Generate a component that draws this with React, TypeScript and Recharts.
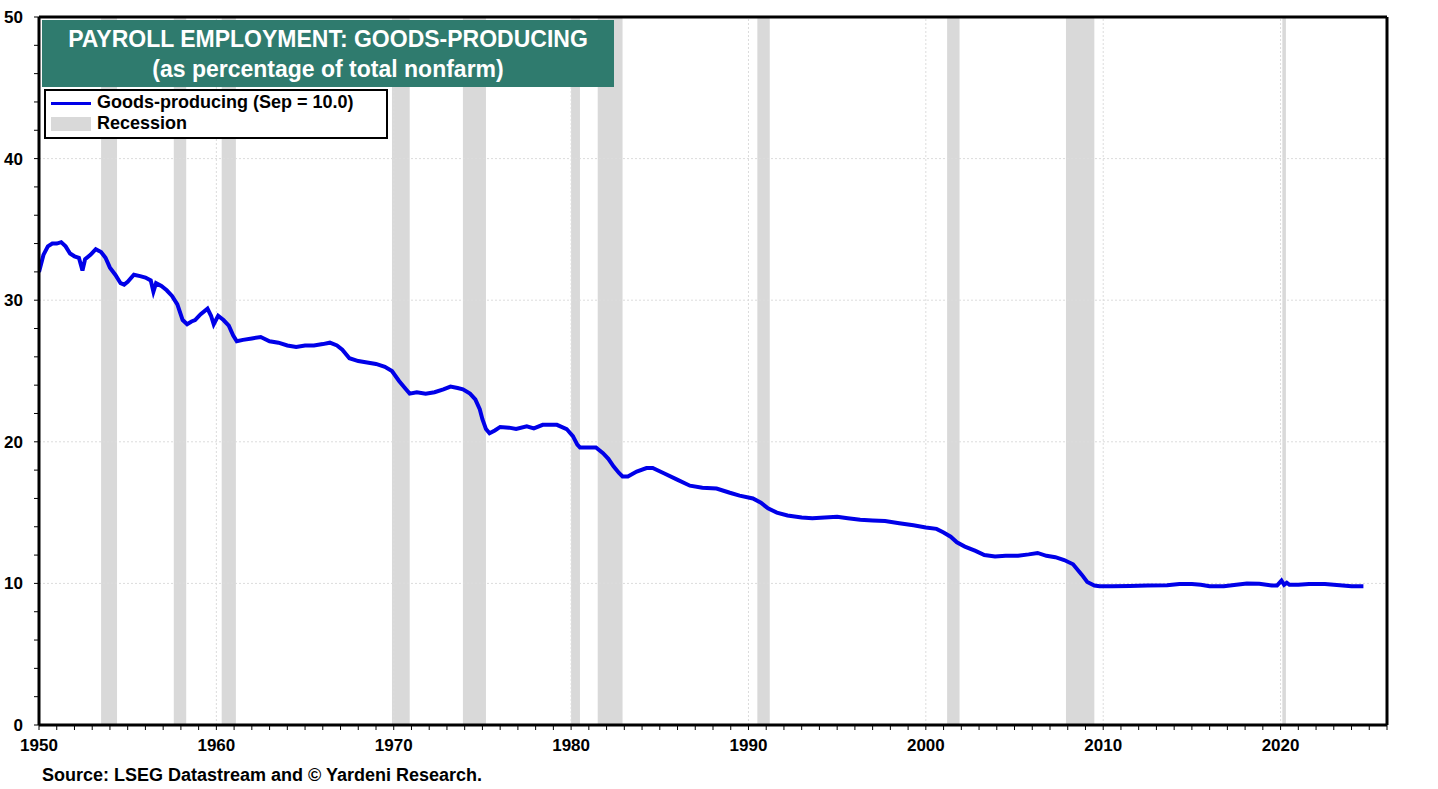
import {
  LineChart,
  Line,
  XAxis,
  YAxis,
  ReferenceArea,
  ReferenceLine,
} from 'recharts';

// decimal year of each reading (monthly series thinned to its turning points)
const dates = [
  1950.0, 1950.25, 1950.5, 1950.75, 1951.0, 1951.25, 1951.5, 1951.75, 1952.0, 1952.25,
  1952.45, 1952.6, 1952.9, 1953.2, 1953.5, 1953.75, 1954.0, 1954.3, 1954.6, 1954.8,
  1955.0, 1955.35, 1955.7, 1956.0, 1956.3, 1956.45, 1956.6, 1956.9, 1957.2, 1957.5,
  1957.8, 1958.1, 1958.35, 1958.6, 1958.8, 1959.1, 1959.5, 1959.7, 1959.85, 1960.1,
  1960.4, 1960.7, 1960.95, 1961.15, 1961.5, 1962.0, 1962.5, 1963.0, 1963.5, 1964.0,
  1964.5, 1965.0, 1965.5, 1966.0, 1966.4, 1966.8, 1967.1, 1967.5, 1968.0, 1968.5,
  1969.0, 1969.5, 1969.9, 1970.3, 1970.7, 1970.9, 1971.3, 1971.8, 1972.3, 1972.8,
  1973.2, 1973.6, 1973.9, 1974.3, 1974.6, 1974.85, 1975.0, 1975.2, 1975.4, 1975.7,
  1976.0, 1976.5, 1976.9, 1977.5, 1977.9, 1978.4, 1979.2, 1979.75, 1980.1, 1980.35,
  1980.5, 1981.0, 1981.4, 1981.8, 1982.1, 1982.4, 1982.7, 1982.9, 1983.2, 1983.7,
  1984.25, 1984.6, 1985.2, 1985.95, 1986.7, 1987.4, 1988.2, 1988.95, 1989.5, 1990.25,
  1990.7, 1991.1, 1991.6, 1992.2, 1993.0, 1993.6, 1994.3, 1995.0, 1995.6, 1996.3,
  1997.0, 1997.7, 1998.5, 1999.3, 2000.0, 2000.6, 2001.0, 2001.4, 2001.75, 2002.2,
  2002.8, 2003.3, 2003.9, 2004.5, 2005.2, 2005.8, 2006.3, 2006.8, 2007.3, 2007.8,
  2008.3, 2008.8, 2009.1, 2009.5, 2009.8, 2010.5, 2011.5, 2012.5, 2013.6, 2014.3,
  2015.0, 2015.5, 2016.0, 2016.8, 2017.5, 2018.1, 2018.8, 2019.5, 2019.8, 2020.05,
  2020.2, 2020.35, 2020.5, 2021.0, 2021.6, 2022.5, 2023.0, 2023.5, 2024.0, 2024.67,
];

// goods-producing jobs, % of total nonfarm payrolls
const goodsShare = [
  32.0, 33.2, 33.8, 34.0, 34.0, 34.1, 33.8, 33.3, 33.1, 33.0,
  32.1, 32.9, 33.2, 33.6, 33.4, 33.0, 32.3, 31.8, 31.2, 31.1,
  31.3, 31.8, 31.7, 31.6, 31.4, 30.6, 31.2, 31.0, 30.7, 30.3,
  29.7, 28.6, 28.3, 28.5, 28.6, 29.0, 29.4, 28.9, 28.3, 28.9,
  28.6, 28.2, 27.5, 27.1, 27.2, 27.3, 27.4, 27.1, 27.0, 26.8,
  26.7, 26.8, 26.8, 26.9, 27.0, 26.8, 26.5, 25.9, 25.7, 25.6,
  25.5, 25.3, 25.0, 24.3, 23.7, 23.4, 23.5, 23.4, 23.5, 23.7,
  23.9, 23.8, 23.7, 23.4, 23.0, 22.3, 21.6, 20.9, 20.6, 20.8,
  21.05, 21.0, 20.9, 21.1, 20.95, 21.2, 21.2, 20.9, 20.4, 19.8,
  19.6, 19.6, 19.6, 19.2, 18.8, 18.25, 17.8, 17.55, 17.55, 17.9,
  18.15, 18.15, 17.8, 17.35, 16.9, 16.75, 16.7, 16.4, 16.2, 16.0,
  15.7, 15.3, 15.0, 14.8, 14.65, 14.6, 14.65, 14.7, 14.6, 14.5,
  14.45, 14.4, 14.25, 14.1, 13.95, 13.85, 13.6, 13.3, 12.9, 12.6,
  12.3, 12.0, 11.9, 11.95, 11.95, 12.05, 12.15, 11.95, 11.85, 11.65,
  11.35, 10.6, 10.1, 9.85, 9.8, 9.8, 9.82, 9.85, 9.87, 9.95,
  9.95, 9.9, 9.8, 9.8, 9.9, 10.0, 9.98, 9.85, 9.85, 10.2,
  9.9, 10.05, 9.9, 9.9, 9.95, 9.95, 9.9, 9.85, 9.8, 9.8,
];

// NBER recessions
const recessionStart = [1953.5, 1957.6, 1960.3, 1969.9, 1973.9, 1980.0, 1981.5, 1990.5, 2001.2, 2007.9, 2020.1];
const recessionEnd = [1954.4, 1958.3, 1961.1, 1970.9, 1975.2, 1980.5, 1982.9, 1991.2, 2001.9, 2009.5, 2020.3];

const yearTicks = Array.from({ length: 77 }, (_, i) => 1950 + i);
const decades = [1960, 1970, 1980, 1990, 2000, 2010, 2020];
const valueTicks = Array.from({ length: 26 }, (_, i) => i * 2);
const gridValues = [10, 20, 30, 40];

const data = dates.map((year, i) => ({ year, value: goodsShare[i] }));

const FONT = '"Liberation Sans", Arial, sans-serif';
const GREEN = '#2f7b6e';
const BLUE = '#0000e8';

function YearTick({ x, y, payload }: any) {
  if (payload.value % 10 !== 0) return null;
  return (
    <text x={x} y={y} dy={19} textAnchor="middle" fontFamily={FONT} fontWeight="bold" fontSize={17} fill="#000">
      {payload.value}
    </text>
  );
}

function LeftTick({ x, y, payload }: any) {
  if (payload.value % 10 !== 0) return null;
  return (
    <text x={x - 9} y={y} dy={6} textAnchor="end" fontFamily={FONT} fontWeight="bold" fontSize={17} fill="#000">
      {payload.value}
    </text>
  );
}

function RightTick({ x, y, payload }: any) {
  if (payload.value % 10 !== 0) return null;
  return (
    <text x={x + 6} y={y} dy={6} textAnchor="start" fontFamily={FONT} fontWeight="bold" fontSize={17} fill="#000">
      {payload.value}
    </text>
  );
}

export default function App() {
  return (
    <div style={{ position: 'absolute', left: 0, top: 0, width: 1438, height: 789, background: '#fff', fontFamily: FONT }}>
      <LineChart width={1438} height={789} data={data} margin={{ top: 17, right: 0, bottom: 0, left: 0 }}>
        {recessionStart.map((start, i) => (
          <ReferenceArea
            key={`rec-${i}`}
            yAxisId="left"
            x1={start}
            x2={recessionEnd[i]}
            fill="#d9d9d9"
            fillOpacity={1}
            stroke="none"
          />
        ))}
        {decades.map((d) => (
          <ReferenceLine key={`vg-${d}`} yAxisId="left" x={d} stroke="#dcdcdc" strokeDasharray="2 2" />
        ))}
        {gridValues.map((v) => (
          <ReferenceLine key={`hg-${v}`} yAxisId="left" y={v} stroke="#dcdcdc" strokeDasharray="2 2" />
        ))}
        <ReferenceLine yAxisId="left" y={50} stroke="#000" strokeWidth={3} />
        <XAxis
          dataKey="year"
          type="number"
          domain={[1950, 2026]}
          ticks={yearTicks}
          interval={0}
          height={64}
          axisLine={{ stroke: '#000', strokeWidth: 3 }}
          tickLine={{ stroke: '#000', strokeWidth: 1 }}
          tickSize={5}
          tick={<YearTick />}
          allowDataOverflow
        />
        <YAxis
          yAxisId="left"
          domain={[0, 50]}
          ticks={valueTicks}
          interval={0}
          width={39}
          axisLine={{ stroke: '#000', strokeWidth: 3 }}
          tickLine={{ stroke: '#000', strokeWidth: 1 }}
          tickSize={5}
          tick={<LeftTick />}
        />
        <YAxis
          yAxisId="right"
          orientation="right"
          domain={[0, 50]}
          ticks={valueTicks}
          interval={0}
          width={51}
          axisLine={{ stroke: '#000', strokeWidth: 3 }}
          tickLine={{ stroke: '#000', strokeWidth: 1 }}
          tickSize={5}
          tick={<RightTick />}
        />
        <Line
          yAxisId="left"
          type="linear"
          dataKey="value"
          stroke={BLUE}
          strokeWidth={4}
          dot={false}
          isAnimationActive={false}
        />
      </LineChart>

      <div
        style={{
          position: 'absolute',
          left: 42,
          top: 20,
          width: 572,
          height: 67,
          background: GREEN,
          color: '#fff',
          fontWeight: 'bold',
          textAlign: 'center',
          fontSize: 23,
          lineHeight: '30px',
          paddingTop: 4,
          boxSizing: 'border-box',
        }}
      >
        <div>PAYROLL EMPLOYMENT: GOODS-PRODUCING</div>
        <div>(as percentage of total nonfarm)</div>
      </div>

      <div
        style={{
          position: 'absolute',
          left: 44,
          top: 89,
          width: 344,
          height: 50,
          background: '#fff',
          border: '2px solid #000',
          boxSizing: 'border-box',
          fontWeight: 'bold',
          fontSize: 18,
        }}
      >
        <div style={{ position: 'absolute', left: 5, top: 11, width: 40, height: 3, background: BLUE }} />
        <div style={{ position: 'absolute', left: 51, top: 1, lineHeight: '21px' }}>Goods-producing (Sep = 10.0)</div>
        <div style={{ position: 'absolute', left: 5, top: 26, width: 40, height: 14, background: '#d9d9d9' }} />
        <div style={{ position: 'absolute', left: 51, top: 22, lineHeight: '21px' }}>Recession</div>
      </div>

      <div style={{ position: 'absolute', left: 42, top: 764, fontWeight: 'bold', fontSize: 18, lineHeight: '22px' }}>
        Source: LSEG Datastream and © Yardeni Research.
      </div>
    </div>
  );
}
